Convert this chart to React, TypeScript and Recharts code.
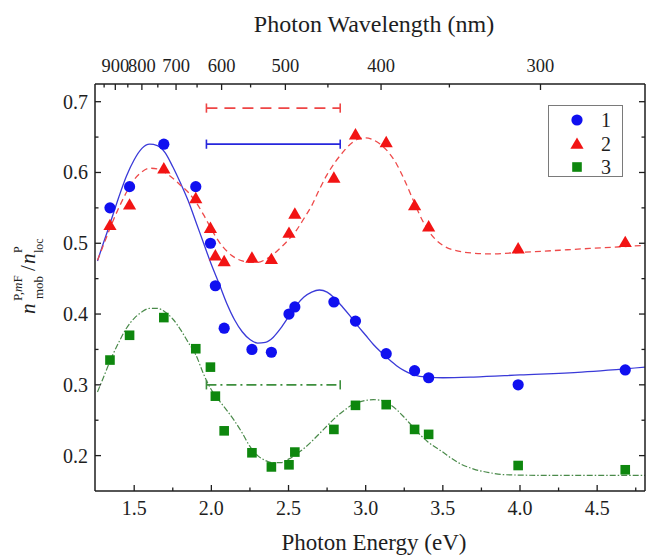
import { ComposedChart, Line, Scatter, XAxis, YAxis, ReferenceLine, Legend } from 'recharts';

// photon energies (eV) of the measured points, shared by the three samples
const energy = [1.343, 1.47, 1.692, 1.899, 1.994, 2.026, 2.083, 2.263, 2.389, 2.503, 2.541, 2.794, 2.934, 3.133, 3.317, 3.408, 3.988, 4.682];
const sample1 = [0.55, 0.58, 0.64, 0.58, 0.5, 0.44, 0.38, 0.35, 0.346, 0.4, 0.41, 0.417, 0.39, 0.344, 0.32, 0.31, 0.3, 0.321];
const sample2 = [0.524, 0.553, 0.604, 0.562, 0.52, 0.481, 0.473, 0.478, 0.476, 0.513, 0.54, 0.591, 0.652, 0.641, 0.552, 0.522, 0.491, 0.5];
const sample3 = [0.335, 0.37, 0.395, 0.351, 0.325, 0.284, 0.235, 0.204, 0.184, 0.187, 0.205, 0.237, 0.271, 0.272, 0.237, 0.23, 0.186, 0.18];

// fitted curves: [energy, value]
const fit1: [number, number][] = [
  [1.262, 0.475], [1.3, 0.5], [1.35, 0.532], [1.4, 0.565], [1.45, 0.595], [1.5, 0.618], [1.55, 0.634],
  [1.6, 0.64], [1.65, 0.638], [1.7, 0.628], [1.75, 0.608], [1.8, 0.585], [1.85, 0.56], [1.9, 0.53],
  [1.95, 0.5], [2.0, 0.47], [2.05, 0.443], [2.1, 0.415], [2.15, 0.392], [2.2, 0.375], [2.25, 0.364],
  [2.3, 0.359], [2.35, 0.36], [2.4, 0.367], [2.45, 0.38], [2.5, 0.396], [2.55, 0.412], [2.6, 0.424],
  [2.65, 0.431], [2.7, 0.434], [2.75, 0.431], [2.8, 0.422], [2.85, 0.41], [2.9, 0.397], [2.95, 0.383],
  [3.0, 0.37], [3.05, 0.357], [3.1, 0.346], [3.15, 0.336], [3.2, 0.327], [3.25, 0.32], [3.3, 0.315],
  [3.35, 0.312], [3.4, 0.311], [3.5, 0.31], [3.7, 0.311], [4.0, 0.314], [4.4, 0.318], [4.81, 0.325],
];
const fit2: [number, number][] = [
  [1.262, 0.476], [1.3, 0.497], [1.35, 0.525], [1.4, 0.55], [1.45, 0.572], [1.5, 0.59], [1.55, 0.601],
  [1.6, 0.606], [1.65, 0.605], [1.7, 0.6], [1.75, 0.592], [1.8, 0.582], [1.85, 0.572], [1.9, 0.558],
  [1.95, 0.54], [2.0, 0.52], [2.05, 0.502], [2.1, 0.489], [2.15, 0.48], [2.2, 0.475], [2.25, 0.473],
  [2.3, 0.473], [2.35, 0.477], [2.4, 0.484], [2.45, 0.494], [2.5, 0.505], [2.55, 0.518], [2.6, 0.535],
  [2.65, 0.553], [2.7, 0.576], [2.75, 0.597], [2.8, 0.614], [2.85, 0.628], [2.9, 0.64], [2.95, 0.647],
  [3.0, 0.649], [3.05, 0.646], [3.1, 0.639], [3.15, 0.628], [3.2, 0.612], [3.25, 0.59], [3.3, 0.565],
  [3.35, 0.54], [3.4, 0.52], [3.45, 0.506], [3.5, 0.497], [3.6, 0.489], [3.7, 0.486], [3.8, 0.485],
  [4.0, 0.487], [4.4, 0.492], [4.81, 0.497],
];
const fit3: [number, number][] = [
  [1.262, 0.29], [1.3, 0.31], [1.35, 0.337], [1.4, 0.36], [1.45, 0.38], [1.5, 0.394], [1.55, 0.403],
  [1.6, 0.408], [1.65, 0.408], [1.7, 0.403], [1.75, 0.393], [1.8, 0.378], [1.85, 0.36], [1.9, 0.342],
  [1.95, 0.315], [2.0, 0.293], [2.05, 0.278], [2.1, 0.264], [2.15, 0.249], [2.2, 0.232], [2.25, 0.213],
  [2.3, 0.2], [2.35, 0.193], [2.4, 0.19], [2.45, 0.19], [2.5, 0.195], [2.55, 0.202], [2.6, 0.21],
  [2.65, 0.22], [2.7, 0.231], [2.75, 0.242], [2.8, 0.253], [2.85, 0.262], [2.9, 0.27], [2.95, 0.275],
  [3.0, 0.278], [3.05, 0.279], [3.1, 0.278], [3.15, 0.273], [3.2, 0.265], [3.25, 0.254], [3.3, 0.242],
  [3.35, 0.23], [3.4, 0.22], [3.45, 0.212], [3.5, 0.205], [3.55, 0.197], [3.6, 0.19], [3.7, 0.181],
  [3.8, 0.176], [3.9, 0.173], [4.2, 0.172], [4.81, 0.172],
];

// horizontal range markers
const rangeStart = 1.968;
const rangeEnd = 2.835;
const range2Level = 0.691;
const range1Level = 0.64;
const range3Level = 0.3;
const capHalf = 0.0065;

const energyTicks = [1.5, 1.75, 2.0, 2.25, 2.5, 2.75, 3.0, 3.25, 3.5, 3.75, 4.0, 4.25, 4.5, 4.75];
const valueTicks = [0.2, 0.25, 0.3, 0.35, 0.4, 0.45, 0.5, 0.55, 0.6, 0.65, 0.7];
const wavelengthTicks = [950, 900, 850, 800, 750, 700, 650, 600, 550, 500, 450, 400, 350, 300];
const wavelengthLabels = [900, 800, 700, 600, 500, 400, 300];
const HC = 1239.84; // eV*nm
const X_DOMAIN = [1.246, 4.81];
const Y_DOMAIN = [0.15, 0.725];

const FONT = '"Liberation Serif", "Times New Roman", serif';
const INK = '#1e1e1e';
const BLUE = '#1010f0';
const RED = '#f21414';
const GREEN = '#0e870e';

const toRows = (pts: [number, number][]) => pts.map(([e, v]) => ({ e, v }));
const points = (vals: number[]) => energy.map((e, i) => ({ e, v: vals[i] }));

const isStep = (v: number, step: number) => Math.abs(v / step - Math.round(v / step)) < 1e-6;

const BottomTick = ({ x, y, payload }: any) => {
  const major = isStep(payload.value, 0.5);
  return (
    <g>
      <line x1={x} x2={x} y1={y} y2={y - (major ? 6 : 3.5)} stroke={INK} strokeWidth={1.3} />
      {major && (
        <text x={x} y={y + 24} textAnchor="middle" fontFamily={FONT} fontSize={20} fill={INK}>
          {payload.value.toFixed(1)}
        </text>
      )}
    </g>
  );
};

const TopTick = ({ x, y, payload }: any) => {
  const wl = Math.round(HC / payload.value);
  const major = wavelengthLabels.includes(wl);
  return (
    <g>
      <line x1={x} x2={x} y1={y} y2={y + (major ? 6 : 3.5)} stroke={INK} strokeWidth={1.3} />
      {major && (
        <text x={x} y={y - 12} textAnchor="middle" fontFamily={FONT} fontSize={18.5} fill={INK}>
          {wl}
        </text>
      )}
    </g>
  );
};

const LeftTick = ({ x, y, payload }: any) => {
  const major = isStep(payload.value, 0.1);
  return (
    <g>
      <line x1={x} x2={x + (major ? 6 : 3.5)} y1={y} y2={y} stroke={INK} strokeWidth={1.3} />
      {major && (
        <text x={x - 7} y={y + 7} textAnchor="end" fontFamily={FONT} fontSize={20} fill={INK}>
          {payload.value.toFixed(1)}
        </text>
      )}
    </g>
  );
};

const RightTick = ({ x, y, payload }: any) => {
  const major = isStep(payload.value, 0.1);
  return <line x1={x} x2={x - (major ? 6 : 3.5)} y1={y} y2={y} stroke={INK} strokeWidth={1.3} />;
};

const Circle = ({ cx, cy, fill }: any) => <circle cx={cx} cy={cy} r={5.6} fill={fill} />;
const Tri = ({ cx, cy, fill }: any) => (
  <polygon points={`${cx},${cy - 7.6} ${cx - 6.6},${cy + 3.8} ${cx + 6.6},${cy + 3.8}`} fill={fill} />
);
const Sq = ({ cx, cy, fill }: any) => <rect x={cx - 4.8} y={cy - 4.8} width={9.6} height={9.6} fill={fill} />;

const YTitle = () => (
  <g transform="translate(35, 314) rotate(-90)" fontFamily={FONT} fill={INK}>
    <text x={0} y={0} fontSize={21} fontStyle="italic">n</text>
    <text x={13} y={-13} fontSize={13}>
      P,<tspan fontStyle="italic">m</tspan>F
    </text>
    <text x={15} y={8} fontSize={13}>mob</text>
    <text x={43} y={0} fontSize={21}>/</text>
    <text x={50} y={0} fontSize={21} fontStyle="italic">n</text>
    <text x={61} y={-13} fontSize={12}>P</text>
    <text x={61} y={8} fontSize={12}>loc</text>
  </g>
);

const LegendBox = () => (
  <svg width={75} height={72} style={{ display: 'block' }}>
    <rect x={0.5} y={0.5} width={74} height={71} fill="#fff" stroke="#7a7a7a" strokeWidth={1} />
    <Circle cx={29} cy={15} fill={BLUE} />
    <Tri cx={29} cy={40} fill={RED} />
    <Sq cx={29} cy={62} fill={GREEN} />
    {['1', '2', '3'].map((t, i) => (
      <text key={t} x={53} y={[15, 39, 62][i] + 7} fontFamily={FONT} fontSize={20} fill={INK}>
        {t}
      </text>
    ))}
  </svg>
);

export default function App() {
  const ranges = [
    { level: range2Level, color: '#ee4545', dash: '11 7' },
    { level: range1Level, color: '#2626dc', dash: undefined },
    { level: range3Level, color: '#3d8f3d', dash: '10 4 2 4' },
  ];
  return (
    <div style={{ position: 'absolute', left: 0, top: 0, width: 646, height: 556, background: '#fff' }}>
      <ComposedChart width={646} height={556} margin={{ top: 0, right: 0, bottom: 0, left: 0 }}>
        <XAxis
          dataKey="e"
          type="number"
          domain={X_DOMAIN}
          allowDataOverflow
          ticks={energyTicks}
          interval={0}
          height={65}
          tickSize={0}
          tickMargin={0}
          tickLine={false}
          tick={BottomTick}
          axisLine={{ stroke: INK, strokeWidth: 1.5 }}
          label={() => (
            <text x={374} y={550} textAnchor="middle" fontFamily={FONT} fontSize={23} fill={INK}>
              Photon Energy (eV)
            </text>
          )}
        />
        <XAxis
          xAxisId="top"
          orientation="top"
          dataKey="e"
          type="number"
          domain={X_DOMAIN}
          allowDataOverflow
          ticks={wavelengthTicks.map((w) => HC / w)}
          interval={0}
          height={84}
          tickSize={0}
          tickMargin={0}
          tickLine={false}
          tick={TopTick}
          axisLine={{ stroke: INK, strokeWidth: 1.5 }}
          label={() => (
            <text x={374} y={32} textAnchor="middle" fontFamily={FONT} fontSize={24} fill={INK}>
              Photon Wavelength (nm)
            </text>
          )}
        />
        <YAxis
          dataKey="v"
          type="number"
          domain={Y_DOMAIN}
          allowDataOverflow
          ticks={valueTicks}
          interval={0}
          width={95}
          tickSize={0}
          tickMargin={0}
          tickLine={false}
          tick={LeftTick}
          axisLine={{ stroke: INK, strokeWidth: 1.5 }}
          label={() => <YTitle />}
        />
        <YAxis
          yAxisId="right"
          orientation="right"
          dataKey="v"
          type="number"
          domain={Y_DOMAIN}
          allowDataOverflow
          ticks={valueTicks}
          interval={0}
          width={1}
          tickSize={0}
          tickMargin={0}
          tickLine={false}
          tick={RightTick}
          axisLine={{ stroke: INK, strokeWidth: 1.5 }}
        />

        {ranges.map((r) => (
          <ReferenceLine
            key={`h${r.level}`}
            segment={[{ x: rangeStart, y: r.level }, { x: rangeEnd, y: r.level }]}
            stroke={r.color}
            strokeWidth={1.8}
            strokeDasharray={r.dash}
          />
        ))}
        {ranges.flatMap((r) =>
          [rangeStart, rangeEnd].map((x) => (
            <ReferenceLine
              key={`c${r.level}-${x}`}
              segment={[{ x, y: r.level - capHalf }, { x, y: r.level + capHalf }]}
              stroke={r.color}
              strokeWidth={1.6}
            />
          ))
        )}

        <Line data={toRows(fit1)} dataKey="v" type="monotone" stroke="#3a3ad8" strokeWidth={1.3} dot={false} activeDot={false} isAnimationActive={false} />
        <Line data={toRows(fit2)} dataKey="v" type="monotone" stroke="#ee4a4a" strokeWidth={1.3} strokeDasharray="6 4" dot={false} activeDot={false} isAnimationActive={false} />
        {/* same domains on both axis pairs, so this curve also anchors the top and right axes */}
        <Line data={toRows(fit3)} xAxisId="top" yAxisId="right" dataKey="v" type="monotone" stroke="#4a8a4a" strokeWidth={1.2} strokeDasharray="6 2 1.5 2" dot={false} activeDot={false} isAnimationActive={false} />

        <Scatter data={points(sample1)} fill={BLUE} shape={Circle} isAnimationActive={false} />
        <Scatter data={points(sample2)} fill={RED} shape={Tri} isAnimationActive={false} />
        <Scatter data={points(sample3)} fill={GREEN} shape={Sq} isAnimationActive={false} />

        <Legend
          layout="horizontal"
          verticalAlign="middle"
          align="center"
          content={() => <LegendBox />}
          wrapperStyle={{ left: 548, top: 105, width: 75, height: 72 }}
        />
      </ComposedChart>
    </div>
  );
}
